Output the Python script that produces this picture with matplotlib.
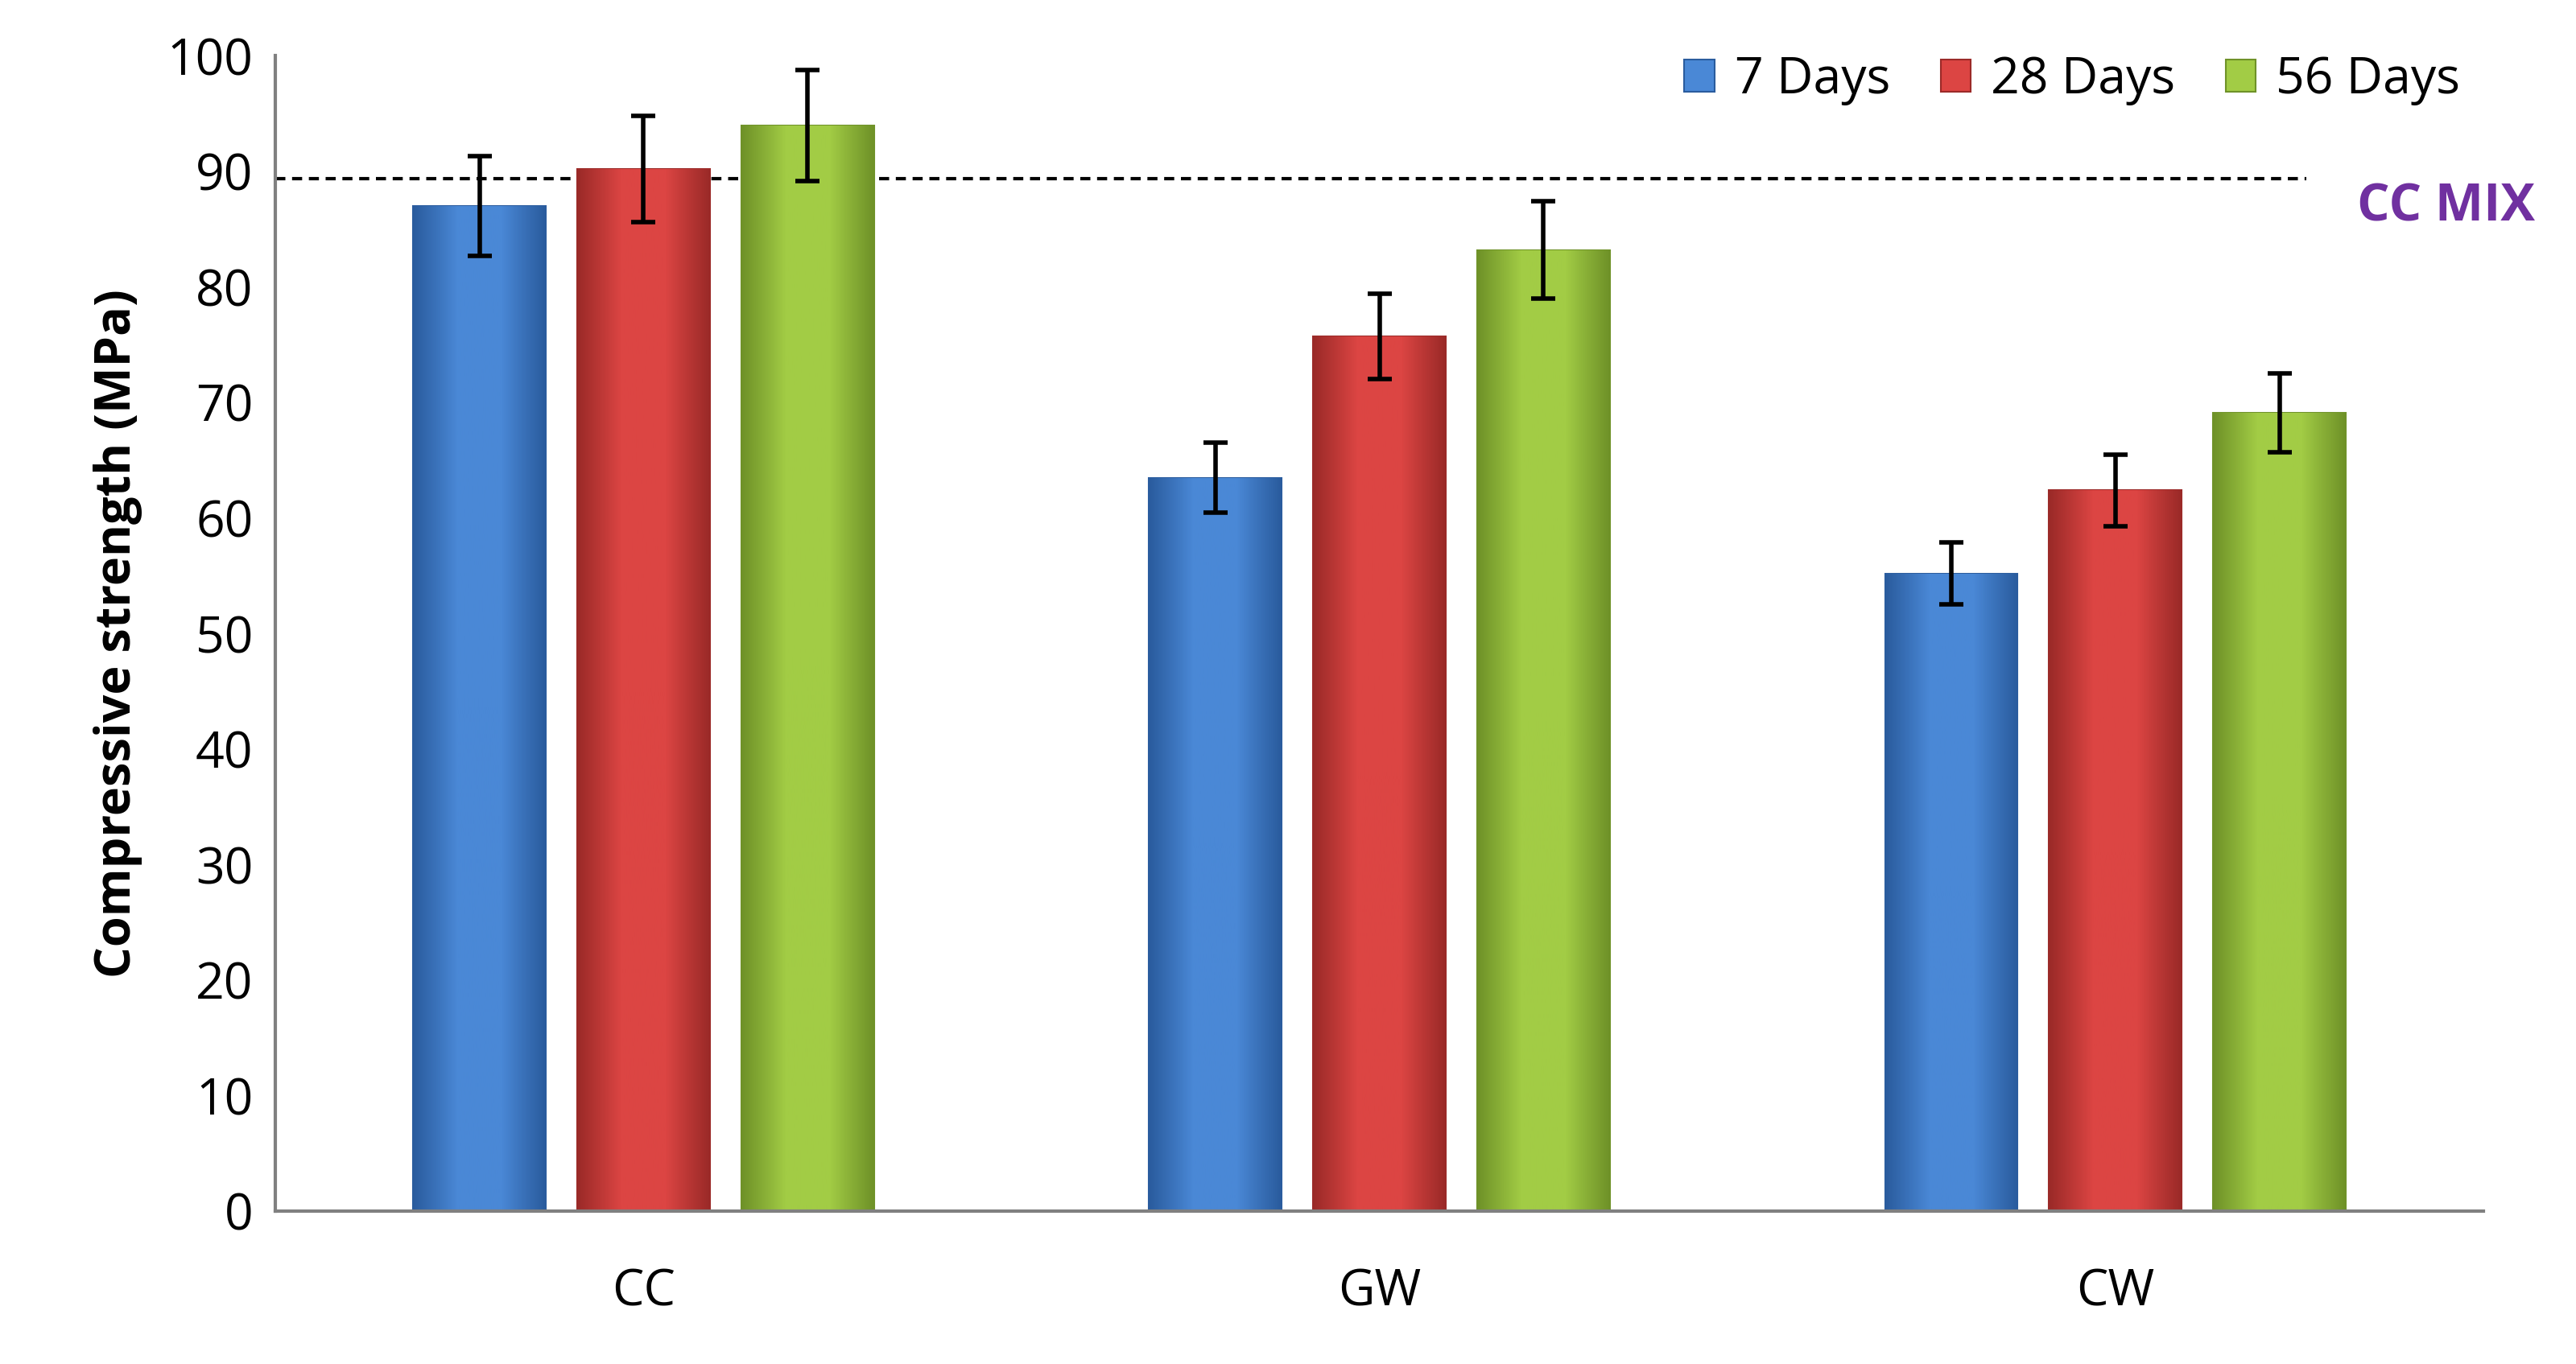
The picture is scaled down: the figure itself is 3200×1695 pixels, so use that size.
import numpy as np
import matplotlib
matplotlib.use("Agg")
import matplotlib.pyplot as plt
from matplotlib.colors import LinearSegmentedColormap

plt.rcParams["font.family"] = "Open Sans"

groups = ["CC", "GW", "CW"]
series = ["7 Days", "28 Days", "56 Days"]
values = [
    [87.0, 63.5, 55.2],
    [90.2, 75.7, 62.4],
    [94.0, 83.2, 69.1],
]
errors = [
    [4.3, 3.0, 2.7],
    [4.6, 3.7, 3.1],
    [4.8, 4.2, 3.4],
]
cc_mix = 89.4
# (dark, light) per series
shades = [("#2a5c9e", "#4a88d6"), ("#9b2a28", "#dc4543"), ("#6f9228", "#a2cc45")]

fig = plt.figure(figsize=(32, 16.95), dpi=100)
ax = fig.add_axes([0.107, 0.112, 0.857, 0.847])

x = np.arange(len(groups))
w = 0.18
step = 0.223
for i, name in enumerate(series):
    xs = x + (i - 1) * step
    dark, light = shades[i]
    cmap = LinearSegmentedColormap.from_list(name, [dark, light, light, dark])
    bars = ax.bar(xs, values[i], w, color=light, edgecolor=dark, lw=1.5,
                  label=name, zorder=2)
    grad = np.linspace(0, 1, 64).reshape(1, -1)
    for b in bars:
        im = ax.imshow(grad, cmap=cmap, aspect="auto", zorder=2,
                       extent=(b.get_x(), b.get_x() + b.get_width(), 0, b.get_height()))
        im.set_clip_path(b)
    ax.errorbar(xs, values[i], yerr=errors[i], fmt="none", ecolor="black",
                elinewidth=4, capsize=11, capthick=4, zorder=3)

ax.axhline(cc_mix, xmin=0, xmax=0.92, color="black", ls=(0, (3, 2)), lw=3, zorder=1)
ax.text(2.57, cc_mix - 2.5, "CC MIX", color="#7030a0", fontsize=46, fontweight="bold",
        ha="right", va="center")

ax.set_xlim(-0.5, 2.5)
ax.set_ylim(0, 100)
ax.set_yticks(range(0, 101, 10))
ax.set_xticks(x)
ax.set_xticklabels(groups)
ax.tick_params(axis="both", labelsize=45, length=0, pad=20)
ax.tick_params(axis="x", pad=50)
ax.set_ylabel("Compressive strength (MPa)", fontsize=44, fontweight="bold", labelpad=22)
for s in ["top", "right"]:
    ax.spines[s].set_visible(False)
for s in ["left", "bottom"]:
    ax.spines[s].set_color("#808080")
    ax.spines[s].set_linewidth(3)

ax.legend(loc="upper right", bbox_to_anchor=(1.01, 1.04), ncol=3, frameon=False,
          fontsize=45, handlelength=0.6, handleheight=0.6, columnspacing=1.0,
          handletextpad=0.4)

fig.savefig("out.png", dpi=100)
